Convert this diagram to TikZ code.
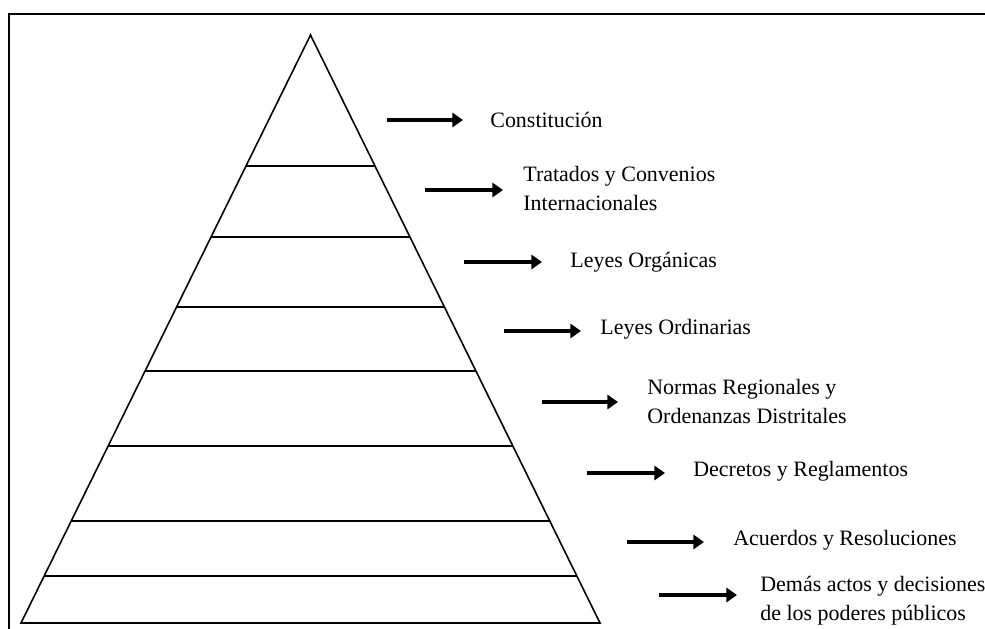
\documentclass[tikz,border=0pt]{standalone}
\usepackage{fontspec}
\setmainfont{Liberation Serif}
\usetikzlibrary{arrows.meta,calc}
\tikzset{
  nivel/.style={anchor=west,inner sep=0pt,align=left,
    font=\fontsize{12.5}{16.5}\selectfont},
  flecha/.style={line width=2.6pt,-{Triangle[length=6pt,width=8pt]}},
  capa/.style={line width=0.9pt,line join=miter}
}
\begin{document}
\begin{tikzpicture}
    [x=0.02cm,y=-0.02cm]
    \useasboundingbox (0,0) rectangle (985,629);
    \clip (0,0) rectangle (985,629);
    %frame
    \draw[line width=1.4pt] (9,640)--(9,14)--(990,14);
    %pyramid
    \coordinate (apex) at (310.5,35);
    \coordinate (bl) at (21,623);
    \coordinate (br) at (600,623);
    \draw[capa] (apex)--(bl)--(br)--cycle;
    \foreach \y in {166,237,307,371,446,521,576}{
      \pgfmathsetmacro\t{(\y-35)/588}
      \draw[capa] ($(apex)!\t!(bl)$)--($(apex)!\t!(br)$);
    }
    %labels
    \node[nivel] (constitucion) at (490,120) {Constitución};
    \node[nivel] (tratados) at (523,188) {Tratados y Convenios\\Internacionales};
    \node[nivel] (organicas) at (570,262) {Leyes Orgánicas};
    \node[nivel] (ordinarias) at (600,329) {Leyes Ordinarias};
    \node[nivel] (normas) at (647,401) {Normas Regionales y\\Ordenanzas Distritales};
    \node[nivel] (decretos) at (693,471) {Decretos y Reglamentos};
    \node[nivel] (acuerdos) at (733,540) {Acuerdos y Resoluciones};
    \node[nivel] (demas) at (760,601) {Demás actos y decisiones\\de los poderes públicos};
    %arrows
    \coordinate (f1) at (387,120);
    \coordinate (f2) at (425,190);
    \coordinate (f3) at (464,262);
    \coordinate (f4) at (504,331);
    \coordinate (f5) at (542,402);
    \coordinate (f6) at (587,473);
    \coordinate (f7) at (627,542);
    \coordinate (f8) at (659,595);
    \draw[flecha,shorten >=0.54cm] (f1)--(f1-|constitucion.west);
    \draw[flecha,shorten >=0.40cm] (f2)--(f2-|tratados.west);
    \draw[flecha,shorten >=0.56cm] (f3)--(f3-|organicas.west);
    \draw[flecha,shorten >=0.38cm] (f4)--(f4-|ordinarias.west);
    \draw[flecha,shorten >=0.58cm] (f5)--(f5-|normas.west);
    \draw[flecha,shorten >=0.56cm] (f6)--(f6-|decretos.west);
    \draw[flecha,shorten >=0.58cm] (f7)--(f7-|acuerdos.west);
    \draw[flecha,shorten >=0.46cm] (f8)--(f8-|demas.west);
\end{tikzpicture}
\end{document}
